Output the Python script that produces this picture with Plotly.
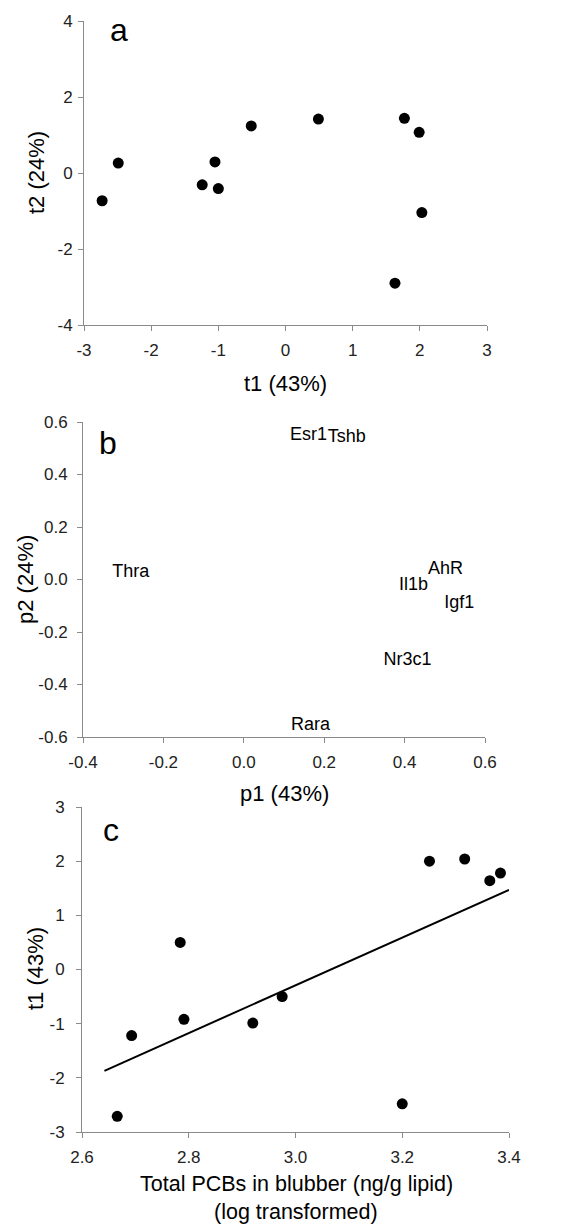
import plotly.graph_objects as go

# panel a: scores
t1_scores = [-2.73, -2.49, -1.24, -1.05, -1.00, -0.51, 0.49, 1.77, 1.99, 2.03, 1.63]
t2_scores = [-0.73, 0.26, -0.31, 0.29, -0.41, 1.24, 1.42, 1.44, 1.07, -1.04, -2.90]

# panel b: loadings
genes = ['Esr1', 'Tshb', 'Thra', 'AhR', 'Il1b', 'Igf1', 'Nr3c1', 'Rara']
p1_load = [0.161, 0.256, -0.281, 0.502, 0.422, 0.536, 0.407, 0.166]
p2_load = [0.549, 0.542, 0.027, 0.037, -0.024, -0.090, -0.310, -0.556]

# panel c: t1 vs PCBs
pcb_log = [2.666, 2.693, 2.784, 2.791, 2.920, 2.975, 3.200, 3.251, 3.317, 3.364, 3.384]
t1_c = [-2.71, -1.22, 0.50, -0.92, -0.99, -0.50, -2.48, 2.00, 2.04, 1.64, 1.78]
fit_x = [2.642, 3.400]
fit_y = [-1.87, 1.47]

# tick labels (hyphen minus as in the original)
a_xticks = [-3, -2, -1, 0, 1, 2, 3]
a_yticks = [-4, -2, 0, 2, 4]
b_xticks = [-0.4, -0.2, 0.0, 0.2, 0.4, 0.6]
b_yticks = [-0.6, -0.4, -0.2, 0.0, 0.2, 0.4, 0.6]
c_xticks = [2.6, 2.8, 3.0, 3.2, 3.4]
c_yticks = [-3, -2, -1, 0, 1, 2, 3]

# page is 569x1224; the body keeps its default 8px margin at top/left
PAD = 8
W, H = 569 - PAD, 1224 - PAD
FONT = 'Liberation Sans, Arial, sans-serif'

fig = go.Figure()
fig.add_trace(go.Scatter(x=t1_scores, y=t2_scores, mode='markers',
                         marker=dict(color='black', size=11), xaxis='x', yaxis='y'))
fig.add_trace(go.Scatter(x=p1_load, y=p2_load, mode='text', text=genes,
                         textposition='middle center',
                         textfont=dict(family=FONT, size=18, color='black'),
                         xaxis='x2', yaxis='y2'))
fig.add_trace(go.Scatter(x=fit_x, y=fit_y, mode='lines',
                         line=dict(color='black', width=2), xaxis='x3', yaxis='y3'))
fig.add_trace(go.Scatter(x=pcb_log, y=t1_c, mode='markers',
                         marker=dict(color='black', size=11), xaxis='x3', yaxis='y3'))


def fx(x):
    return (x - PAD) / W


def fy(y):
    return 1 - (y - PAD) / H


def px_dom(a, b):
    return [fx(a), fx(b)]


def py_dom(top, bottom):
    return [fy(bottom), fy(top)]


def ticks(vals, fmt):
    return dict(tickmode='array', tickvals=vals, ticktext=[fmt.format(v) for v in vals])


ax_style = dict(showline=True, linecolor='#8a8a8a', linewidth=1, ticks='outside',
                ticklen=5, tickcolor='#8a8a8a', showgrid=False, zeroline=False,
                automargin=False,
                tickfont=dict(family=FONT, size=17, color='#222222'))

fig.update_layout(
    template='none',
    width=W, height=H, margin=dict(l=0, r=0, t=0, b=0, autoexpand=False),
    paper_bgcolor='white', plot_bgcolor='white', showlegend=False,
    font=dict(family=FONT, color='black'),
    xaxis=dict(domain=px_dom(84, 487), range=[-3, 3], anchor='y',
               ticklabelstandoff=5, **ticks(a_xticks, '{:g}'), **ax_style),
    yaxis=dict(domain=py_dom(21, 325), range=[-4, 4], anchor='x',
               ticklabelstandoff=2, **ticks(a_yticks, '{:g}'), **ax_style),
    xaxis2=dict(domain=px_dom(83, 485), range=[-0.4, 0.6], anchor='y2',
                ticklabelstandoff=5, **ticks(b_xticks, '{:.1f}'), **ax_style),
    yaxis2=dict(domain=py_dom(422, 737), range=[-0.6, 0.6], anchor='x2',
                ticklabelstandoff=6, **ticks(b_yticks, '{:.1f}'), **ax_style),
    xaxis3=dict(domain=px_dom(82, 509), range=[2.6, 3.4], anchor='y3',
                ticklabelstandoff=5, **ticks(c_xticks, '{:.1f}'), **ax_style),
    yaxis3=dict(domain=py_dom(807, 1132), range=[-3, 3], anchor='x3',
                ticklabelstandoff=8, **ticks(c_yticks, '{:g}'), **ax_style),
)


def note(text, x, y, size, angle=0):
    fig.add_annotation(text=text, x=fx(x), y=fy(y), xref='paper', yref='paper',
                       showarrow=False, textangle=angle, xanchor='center', yanchor='middle',
                       font=dict(family=FONT, size=size, color='black'))


# panel letters
note('a', 119, 30, 32)
note('b', 108, 443, 32)
note('c', 111, 830, 32)

# axis titles
note('t1 (43%)', 285, 383, 22)
note('t2 (24%)', 37, 173, 22, -90)
note('p1 (43%)', 284, 793, 22)
note('p2 (24%)', 25, 580, 22, -90)
note('t1 (43%)', 35, 969, 22, -90)
note('Total PCBs in blubber (ng/g lipid)', 296, 1184, 21.5)
note('(log transformed)', 296, 1212, 21.5)

fig.write_html('out.html')
